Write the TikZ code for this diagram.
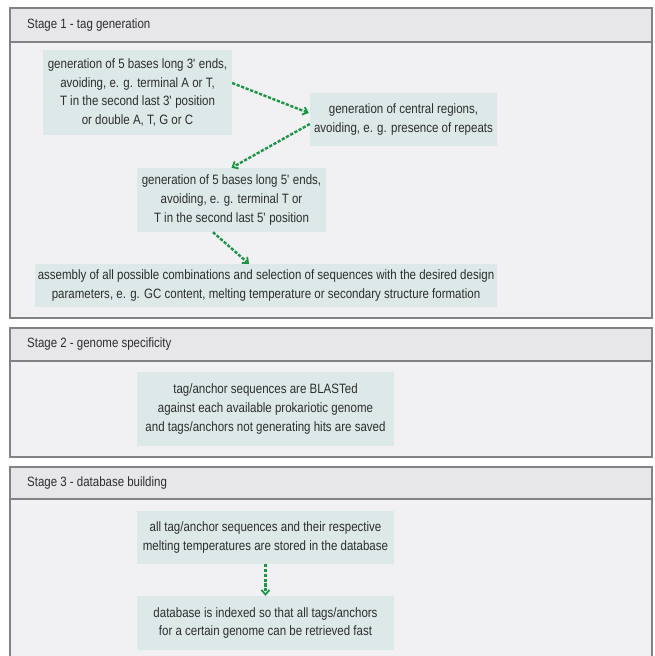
\documentclass[tikz,border=0pt]{standalone}
\usepackage{fontspec}
\setmainfont{Liberation Sans}[FakeStretch=0.85]
\usetikzlibrary{arrows.meta}
\definecolor{panelbg}{RGB}{241,241,244}
\definecolor{headbg}{RGB}{231,231,234}
\definecolor{panelline}{RGB}{130,130,134}
\definecolor{boxbg}{RGB}{220,233,232}
\definecolor{txt}{RGB}{45,45,45}
\definecolor{arrgreen}{RGB}{28,150,70}
\newcommand{\ap}{\textquotesingle}
\tikzset{
  panel/.style={fill=panelbg, draw=panelline, line width=1.2pt},
  headband/.style={fill=headbg, draw=panelline, line width=1.2pt},
  headtext/.style={anchor=west, inner sep=0pt, text=txt, font=\fontsize{13.5}{16}\selectfont},
  infobox/.style={fill=boxbg, draw=none, align=center, inner sep=0pt, text=txt,
    font=\fontsize{13.55}{18.6}\selectfont},
  flow/.style={draw=arrgreen, line width=2.4pt, dash pattern=on 3.2pt off 1.6pt,
    -{Straight Barb[length=4.5pt,width=8pt,line width=1.8pt]}}
}
\begin{document}
\begin{tikzpicture}[x=1pt,y=-1pt]
\useasboundingbox (0,0) rectangle (654,656);
\fill[white] (0,0) rectangle (654,656);
% Stage 1
\draw[panel] (10,8) rectangle (652,318);
\draw[headband] (10,8) rectangle (652,42);
\node[headtext] (h1) at (27,25) {Stage 1 - tag generation};
% Stage 2
\draw[panel] (10,328) rectangle (652,457);
\draw[headband] (10,328) rectangle (652,361);
\node[headtext] (h2) at (27,344.5) {Stage 2 - genome specificity};
% Stage 3
\draw[panel] (10,467) rectangle (652,670);
\draw[headband] (10,467) rectangle (652,499);
\node[headtext] (h3) at (27,483) {Stage 3 - database building};

\node[infobox, minimum width=189pt, minimum height=85pt] (b1) at (137.5,92.5)
  {generation of 5 bases long 3\ap{} ends,\\avoiding, e. g. terminal A or T,\\T in the second last 3\ap{} position\\or double A, T, G or C};
\node[infobox, minimum width=187pt, minimum height=53pt] (b2) at (403.5,119.5)
  {generation of central regions,\\avoiding, e. g. presence of repeats};
\node[infobox, minimum width=189pt, minimum height=64pt] (b3) at (231.5,200)
  {generation of 5 bases long 5\ap{} ends,\\avoiding, e. g. terminal T or\\T in the second last 5\ap{} position};
\node[infobox, minimum width=462pt, minimum height=43pt] (b4) at (266,285.5)
  {assembly of all possible combinations and selection of sequences with the desired design\\parameters, e. g. GC content, melting temperature or secondary structure formation};
\node[infobox, minimum width=257pt, minimum height=74pt] (b5) at (265.5,409)
  {tag/anchor sequences are BLASTed\\against each available prokariotic genome\\and tags/anchors not generating hits are saved};
\node[infobox, minimum width=257pt, minimum height=53pt] (b6) at (265.5,537.5)
  {all tag/anchor sequences and their respective\\melting temperatures are stored in the database};
\node[infobox, minimum width=257pt, minimum height=54pt] (b7) at (265.5,623)
  {database is indexed so that all tags/anchors\\for a certain genome can be retrieved fast};

\draw[flow] ([yshift=9.5pt]b1.east) -- ([yshift=6.5pt,xshift=-1pt]b2.west);
\draw[flow] ([yshift=-4.5pt]b2.west) -- (b3.north);
\draw[flow] ([xshift=-18.5pt]b3.south) -- ([xshift=-17pt]b4.north);
\draw[flow] (b6.south) -- (b7.north);
\end{tikzpicture}
\end{document}
